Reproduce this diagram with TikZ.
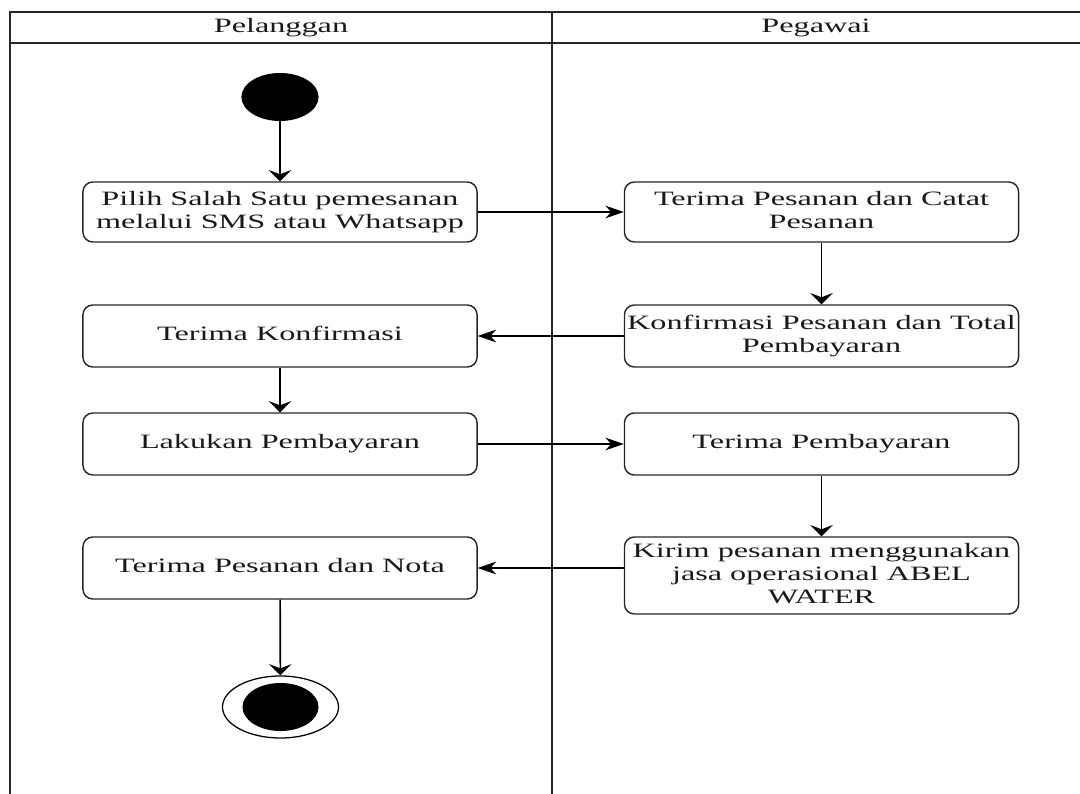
\documentclass[tikz,border=0pt]{standalone}
\usepackage{fontspec}
\setmainfont{Liberation Serif}
\usetikzlibrary{shapes.geometric,arrows.meta}
\newcommand{\sx}[1]{\scalebox{1.58}[1]{\begin{tabular}{@{}c@{}}#1\end{tabular}}}
\tikzset{
  lane/.style={draw=black!85, line width=1.3pt},
  actbox/.style={draw=black!85, line width=1pt, rounded corners=7pt, minimum width=9.85cm, inner sep=0pt, align=center, font=\fontsize{14.5}{16.4}\selectfont, text=black!90},
  hdr/.style={font=\fontsize{14.5}{16.4}\selectfont, text=black!90},
  varr/.style={draw=black, line width=1.2pt, -{Stealth[length=8pt, width=16pt, inset=3pt]}},
  harr/.style={draw=black, line width=1.1pt, -{Stealth[length=13pt, width=9pt, inset=4pt]}},
}
\begin{document}
\begin{tikzpicture}[x=0.025cm, y=-0.025cm]
\useasboundingbox (0,0) rectangle (1080,794);
% swimlanes
\draw[lane] (10,794) -- (10,12) -- (1080,12);
\draw[lane] (10,43) -- (1080,43);
\draw[lane] (552,12) -- (552,794);
\node[hdr] (hp) at (281,28) {\sx{Pelanggan}};
\node[hdr] (hg) at (816,28) {\sx{Pegawai}};
% start
\node[ellipse, fill=black, minimum width=1.93cm, minimum height=1.2cm, inner sep=0pt] (start) at (280,97) {};
% activities
\node[actbox, minimum height=1.5cm] (b1) at (280,212) {\sx{Pilih Salah Satu pemesanan\\melalui SMS atau Whatsapp}};
\node[actbox, minimum height=1.5cm] (b2) at (821.5,212) {\sx{Terima Pesanan dan Catat\\Pesanan}};
\node[actbox, minimum height=1.55cm] (b3) at (821.5,336) {\sx{Konfirmasi Pesanan dan Total\\Pembayaran}};
\node[actbox, minimum height=1.55cm] (b4) at (280,336) {\sx{Terima Konfirmasi}};
\node[actbox, minimum height=1.55cm] (b5) at (280,444) {\sx{Lakukan Pembayaran}};
\node[actbox, minimum height=1.55cm] (b6) at (821.5,444) {\sx{Terima Pembayaran}};
\node[actbox, minimum height=1.925cm] (b7) at (821.5,575.5) {\sx{Kirim pesanan menggunakan\\jasa operasional ABEL\\WATER}};
\node[actbox, minimum height=1.55cm] (b8) at (280,568) {\sx{Terima Pesanan dan Nota}};
% end
\node[ellipse, draw=black, line width=0.9pt, minimum width=2.9cm, minimum height=1.55cm, inner sep=0pt] (end) at (280.5,707) {};
\node[ellipse, fill=black, minimum width=1.9cm, minimum height=1.2cm, inner sep=0pt] (endin) at (end.center) {};
% flows
\draw[varr] (start) -- (b1);
\draw[harr] (b1) -- (b2);
\draw[varr] (b2) -- (b3);
\draw[harr] (b3) -- (b4);
\draw[varr] (b4) -- (b5);
\draw[harr] (b5) -- (b6);
\draw[varr] (b6) -- (b7);
\draw[harr] (b7.west |- b8.east) -- (b8.east);
\draw[varr] (b8) -- (end);
\end{tikzpicture}
\end{document}
